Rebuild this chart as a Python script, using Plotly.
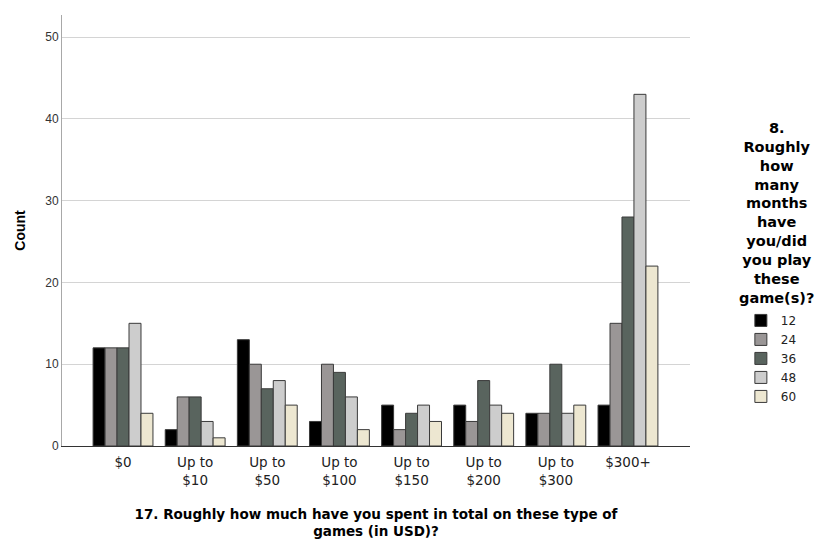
import plotly.graph_objects as go

categories = ["$0", "Up to<br>$10", "Up to<br>$50", "Up to<br>$100", "Up to<br>$150",
              "Up to<br>$200", "Up to<br>$300", "$300+"]
months_12 = [12, 2, 13, 3, 5, 5, 4, 5]
months_24 = [12, 6, 10, 10, 2, 3, 4, 15]
months_36 = [12, 6, 7, 9, 4, 8, 10, 28]
months_48 = [15, 3, 8, 6, 5, 5, 4, 43]
months_60 = [4, 1, 5, 2, 3, 4, 5, 22]
series_names = ["12", "24", "36", "48", "60"]
series_values = [months_12, months_24, months_36, months_48, months_60]
colors = ["#000000", "#9a9696", "#59645e", "#cdcdcd", "#ede7d1"]

ARIAL = "Arial, Liberation Sans, sans-serif"
WIDE = "DejaVu Sans, Verdana, sans-serif"

fig = go.Figure()
for name, vals, col in zip(series_names, series_values, colors):
    fig.add_trace(go.Bar(
        x=categories, y=vals, name=name,
        marker=dict(color=col, line=dict(color="#3a3a3a", width=1)),
    ))

fig.update_layout(
    width=817, height=541,
    margin=dict(l=62, r=127, t=15, b=95),
    paper_bgcolor="white", plot_bgcolor="white",
    barmode="group", bargap=0.17, bargroupgap=0,
    font=dict(family=ARIAL, color="#222222"),
    showlegend=True,
    legend=dict(
        x=1.081, y=0.325, xanchor="left", yanchor="top",
        font=dict(size=12, color="#222222", family=WIDE),
        bgcolor="rgba(0,0,0,0)", tracegroupgap=0,
    ),
    xaxis=dict(
        type="category", range=[-0.846, 7.86],
        showgrid=False, ticks="", showline=True, linecolor="#333333", linewidth=1,
        tickfont=dict(size=13.5, color="#222222", family=WIDE), ticklabelstandoff=4,
        title=dict(text="<b>17. Roughly how much have you spent in total on these type of<br>games (in USD)?</b>",
                   font=dict(size=13.5, color="#000000", family=WIDE), standoff=22),
        automargin=False,
    ),
    yaxis=dict(
        range=[0, 52.7], tickvals=[0, 10, 20, 30, 40, 50],
        showgrid=True, gridcolor="#d4d4d4", gridwidth=1,
        showline=True, linecolor="#a8a8a8", linewidth=1, ticks="",
        zeroline=False,
        tickfont=dict(size=12, color="#333333", family=ARIAL),
        title=dict(text="<b>Count</b>", font=dict(size=14, color="#000000", family=ARIAL), standoff=16),
        automargin=False,
    ),
)

fig.add_annotation(
    xref="paper", yref="paper", x=1.1385, y=0.760, xanchor="center", yanchor="top",
    text="<b>8.<br>Roughly<br>how<br>many<br>months<br>have<br>you/did<br>you play<br>these<br>game(s)?</b>",
    showarrow=False, align="center",
    font=dict(size=14.5, color="#000000", family=WIDE),
)

fig.write_html("out.html", config={"displayModeBar": False},
               post_script="document.body.style.margin='0';document.body.style.overflow='hidden';")
